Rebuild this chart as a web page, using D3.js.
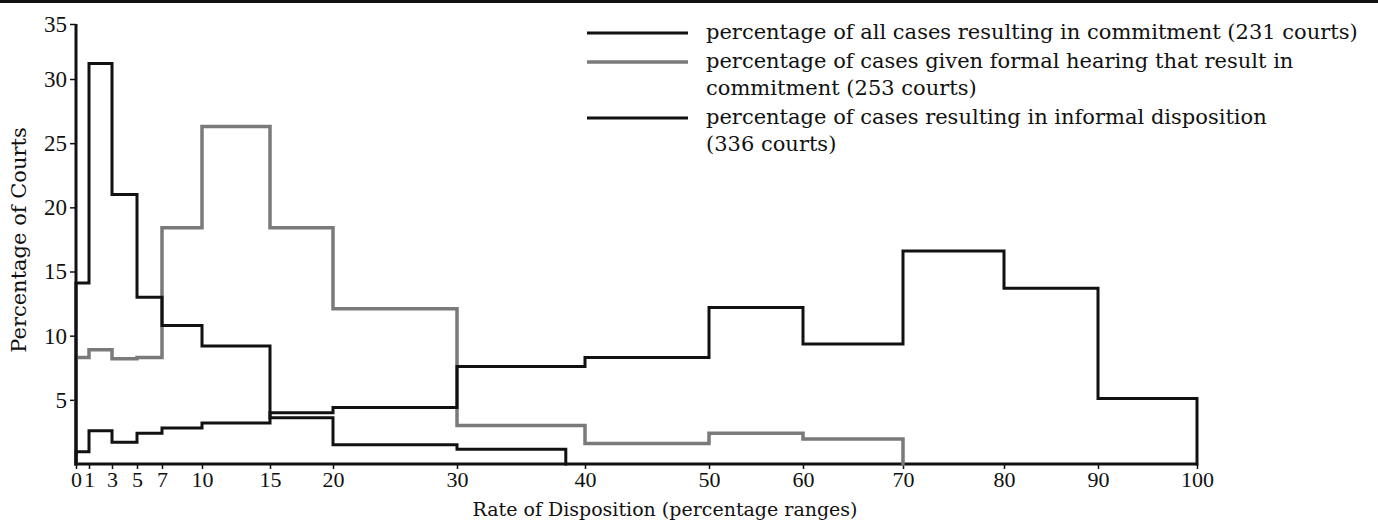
<!DOCTYPE html>
<html><head><meta charset="utf-8">
<script src="https://cdn.jsdelivr.net/npm/d3@7"></script>
<style>
html,body{margin:0;padding:0;background:#fff;}
svg{display:block;}
text{fill:#111;}
.serif{font-family:"DejaVu Serif","Liberation Serif",serif;}
.times{font-family:"Liberation Serif","DejaVu Serif",serif;}
</style></head>
<body>
<svg id="chart" width="1378" height="521"></svg>
<script>
// ---- data ----
const xTickValues = [0,1,3,5,7,10,15,20,30,40,50,60,70,80,90,100];
const yTickValues = [5,10,15,20,25,30,35];

const commitEdges = [0,1,3,5,7,10,15,20,30,38.5];
const commitValues = [14.1,31.4,21.0,13.0,10.8,9.2,3.6,1.5,1.15];

const formalEdges = [0,1,3,5,7,10,15,20,30,40,50,60,70];
const formalValues = [8.3,8.9,8.2,8.3,18.4,26.3,18.4,12.1,3.0,1.6,2.4,1.95];

const informalEdges = [0,1,3,5,7,10,15,20,30,40,50,60,70,80,90,100];
const informalValues = [0.95,2.6,1.7,2.4,2.8,3.2,4.0,4.4,7.6,8.3,12.2,9.35,16.6,13.7,5.1];

const legendLabels = [
  ["percentage of all cases resulting in commitment (231 courts)"],
  ["percentage of cases given formal hearing that result in","commitment (253 courts)"],
  ["percentage of cases resulting in informal disposition","(336 courts)"]
];
const xTitle = "Rate of Disposition (percentage ranges)";
const yTitle = "Percentage of Courts";

// ---- layout ----
const svg = d3.select("#chart");
// hand-drawn, uneven axis: piecewise linear scale through the printed tick positions
const xRange = [76,89,112,137,162,202,270,333,457,585,709,803,903,1004,1098,1197];
const x = d3.scaleLinear().domain(xTickValues).range(xRange);
const y = d3.scaleLinear().domain([0,30,35]).range([464,79,24]);

const ink = "#111", grey = "#7a7a7a";

// top rule of scanned page
svg.append("line").attr("x1",0).attr("x2",1378).attr("y1",1.5).attr("y2",1.5)
  .attr("stroke",ink).attr("stroke-width",3);

// axes
const xAxis = d3.axisBottom(x).tickValues(xTickValues).tickSize(5).tickFormat(d3.format("d"));
const gx = svg.append("g").attr("transform",`translate(0,${y(0)})`).call(xAxis);
gx.select(".domain").attr("stroke",ink).attr("stroke-width",3).attr("d",`M${x(0)},0H${x(100)}`);
gx.selectAll(".tick line").attr("stroke",ink).attr("stroke-width",1.5);
gx.selectAll(".tick text").attr("font-size",22).attr("dy","0.7em").attr("fill",ink)
  .attr("class","times");

const yAxis = d3.axisLeft(y).tickValues(yTickValues).tickSize(6).tickFormat(d3.format("d"));
const gy = svg.append("g").attr("transform",`translate(${x(0)},0)`).call(yAxis);
gy.select(".domain").attr("stroke",ink).attr("stroke-width",3).attr("d",`M0,${y(35)}V${y(0)}`);
gy.selectAll(".tick line").attr("stroke",ink).attr("stroke-width",1.5);
gy.selectAll(".tick text").attr("font-size",23).attr("x",-9).attr("fill",ink)
  .attr("class","times");
gx.attr("font-family",null); gy.attr("font-family",null);

// axis titles
svg.append("text").attr("class","serif").attr("x",665).attr("y",516).attr("text-anchor","middle")
  .attr("font-size",19).text(xTitle);
svg.append("text").attr("class","serif").attr("transform",`translate(26,240) rotate(-90)`)
  .attr("text-anchor","middle").attr("font-size",21).text(yTitle);

// step outlines
function stepPath(edges, vals){
  let p = `M${x(edges[0])},${y(0)}`;
  vals.forEach((v,i)=>{ p += `V${y(v)}H${x(edges[i+1])}`; });
  p += `V${y(0)}`;
  return p;
}
const series = [
  {edges:formalEdges, vals:formalValues, color:grey, w:3.5},
  {edges:informalEdges, vals:informalValues, color:ink, w:3},
  {edges:commitEdges, vals:commitValues, color:ink, w:3}
];
svg.append("g").selectAll("path").data(series).join("path")
  .attr("d",d=>stepPath(d.edges,d.vals))
  .attr("fill","none").attr("stroke",d=>d.color).attr("stroke-width",d=>d.w)
  .attr("stroke-linejoin","miter").attr("stroke-linecap","square");

// legend
const legendStyles = [{color:ink,w:3},{color:grey,w:3.5},{color:ink,w:3}];
const legendY = [33,62,118];
const lg = svg.append("g");
legendLabels.forEach((lines,i)=>{
  lg.append("line").attr("x1",587).attr("x2",688).attr("y1",legendY[i]).attr("y2",legendY[i])
    .attr("stroke",legendStyles[i].color).attr("stroke-width",legendStyles[i].w);
  const t = lg.append("text").attr("class","serif").attr("x",706).attr("y",legendY[i]+6).attr("font-size",21);
  lines.forEach((s,j)=>{
    t.append("tspan").attr("x",706).attr("dy",j===0?0:27).text(s);
  });
});
</script>
</body></html>
